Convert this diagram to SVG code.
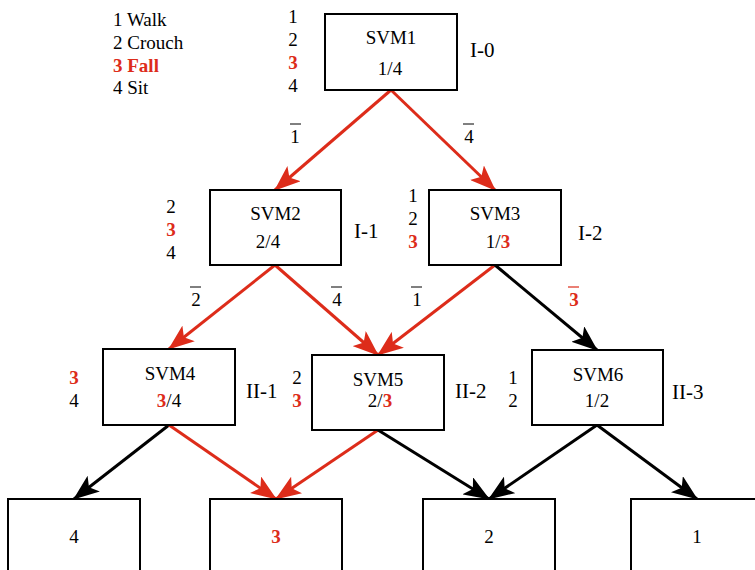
<svg xmlns="http://www.w3.org/2000/svg" width="755" height="570" viewBox="0 0 755 570" font-family="'Liberation Serif', 'Times New Roman', serif">
<style>
text{font-family:'Liberation Serif','Times New Roman',serif;font-size:19px;fill:#000}
.c{text-anchor:middle}
.r{fill:#dd2c1a;font-weight:bold}
.lv{font-size:21px}
.box{fill:#fff;stroke:#000;stroke-width:2}
.e{fill:none;stroke-width:3}
.er{stroke:#dd2c1a}
.eb{stroke:#000}
.bar{stroke:#000;stroke-width:1}
.barr{stroke:#dd2c1a;stroke-width:1.2}
</style>
<defs>
<marker id="ar" markerUnits="userSpaceOnUse" viewBox="0 0 26 20" markerWidth="26" markerHeight="20" refX="25" refY="10" orient="auto"><path d="M0,0 L26,10 L0,20 L6,10 z" fill="#dd2c1a"/></marker>
<marker id="ab" markerUnits="userSpaceOnUse" viewBox="0 0 26 20" markerWidth="26" markerHeight="20" refX="25" refY="10" orient="auto"><path d="M0,0 L26,10 L0,20 L6,10 z" fill="#000"/></marker>
</defs>
<rect width="755" height="570" fill="#fff"/>
<g id="legend">
<text x="113" y="26">1 Walk</text>
<text x="113" y="49">2 Crouch</text>
<text x="113" y="72" class="r">3 Fall</text>
<text x="113" y="94">4 Sit</text>
</g>
<g id="connectors">
<path class="e er" d="M391,90 L275,190" marker-end="url(#ar)"/>
<path class="e er" d="M391,90 L495,190" marker-end="url(#ar)"/>
<path class="e er" d="M275,265 L169,349" marker-end="url(#ar)"/>
<path class="e er" d="M275,265 L378,355" marker-end="url(#ar)"/>
<path class="e er" d="M495,265 L378,355" marker-end="url(#ar)"/>
<path class="e eb" d="M495,265 L597,350" marker-end="url(#ab)"/>
<path class="e eb" d="M169,425 L74,499" marker-end="url(#ab)"/>
<path class="e er" d="M169,425 L276,499" marker-end="url(#ar)"/>
<path class="e er" d="M378,430 L276,499" marker-end="url(#ar)"/>
<path class="e eb" d="M378,430 L489,499" marker-end="url(#ab)"/>
<path class="e eb" d="M597,425 L489,499" marker-end="url(#ab)"/>
<path class="e eb" d="M597,425 L697,499" marker-end="url(#ab)"/>
<text x="295" y="143" class="c">1</text><line class="bar" x1="290" y1="124" x2="301" y2="124"/>
<text x="469" y="143" class="c">4</text><line class="bar" x1="463" y1="124" x2="474" y2="124"/>
<text x="196" y="306" class="c">2</text><line class="bar" x1="190" y1="287" x2="201" y2="287"/>
<text x="337" y="306" class="c">4</text><line class="bar" x1="331" y1="287" x2="342" y2="287"/>
<text x="417" y="306" class="c">1</text><line class="bar" x1="411" y1="287" x2="422" y2="287"/>
<text x="574" y="306" class="c r">3</text><line class="barr" x1="568" y1="287" x2="579" y2="287"/>
</g>
<g id="svm1">
<rect class="box" x="325" y="14" width="132" height="76"/>
<text x="391" y="44" class="c">SVM1</text>
<text x="390" y="75" class="c">1/4</text>
<text x="293" y="23" class="c">1</text>
<text x="293" y="46" class="c">2</text>
<text x="293" y="69" class="c r">3</text>
<text x="293" y="92" class="c">4</text>
<text x="470" y="57" class="lv">I-0</text>
</g>
<g id="svm2">
<rect class="box" x="210" y="190" width="131" height="75"/>
<text x="275.5" y="220" class="c">SVM2</text>
<text x="268" y="248" class="c">2/4</text>
<text x="171" y="213" class="c">2</text>
<text x="171" y="236" class="c r">3</text>
<text x="171" y="259" class="c">4</text>
<text x="354" y="238" class="lv">I-1</text>
</g>
<g id="svm3">
<rect class="box" x="429" y="190" width="132" height="75"/>
<text x="495" y="220" class="c">SVM3</text>
<text x="498" y="248" class="c">1/<tspan class="r">3</tspan></text>
<text x="413" y="202" class="c">1</text>
<text x="413" y="225" class="c">2</text>
<text x="413" y="248" class="c r">3</text>
<text x="578" y="240" class="lv">I-2</text>
</g>
<g id="svm4">
<rect class="box" x="103" y="349" width="132" height="76"/>
<text x="170" y="380" class="c">SVM4</text>
<text x="169" y="407" class="c"><tspan class="r">3</tspan>/4</text>
<text x="74" y="384" class="c r">3</text>
<text x="74" y="407" class="c">4</text>
<text x="246" y="398" class="lv">II-1</text>
</g>
<g id="svm5">
<rect class="box" x="312" y="355" width="132" height="75"/>
<text x="378" y="386" class="c">SVM5</text>
<text x="380" y="407" class="c">2/<tspan class="r">3</tspan></text>
<text x="297" y="384" class="c">2</text>
<text x="297" y="407" class="c r">3</text>
<text x="455" y="398" class="lv">II-2</text>
</g>
<g id="svm6">
<rect class="box" x="532" y="350" width="131" height="75"/>
<text x="598" y="381" class="c">SVM6</text>
<text x="597" y="407" class="c">1/2</text>
<text x="513" y="384" class="c">1</text>
<text x="513" y="407" class="c">2</text>
<text x="672" y="399" class="lv">II-3</text>
</g>
<g id="leaf4">
<rect class="box" x="8" y="499" width="132" height="100"/>
<text x="74" y="543" class="c">4</text>
</g>
<g id="leaf3">
<rect class="box" x="210" y="499" width="132" height="100"/>
<text x="276" y="543" class="c r">3</text>
</g>
<g id="leaf2">
<rect class="box" x="423" y="499" width="132" height="100"/>
<text x="489" y="543" class="c">2</text>
</g>
<g id="leaf1">
<rect class="box" x="631" y="499" width="132" height="100"/>
<text x="697" y="543" class="c">1</text>
</g>
</svg>
